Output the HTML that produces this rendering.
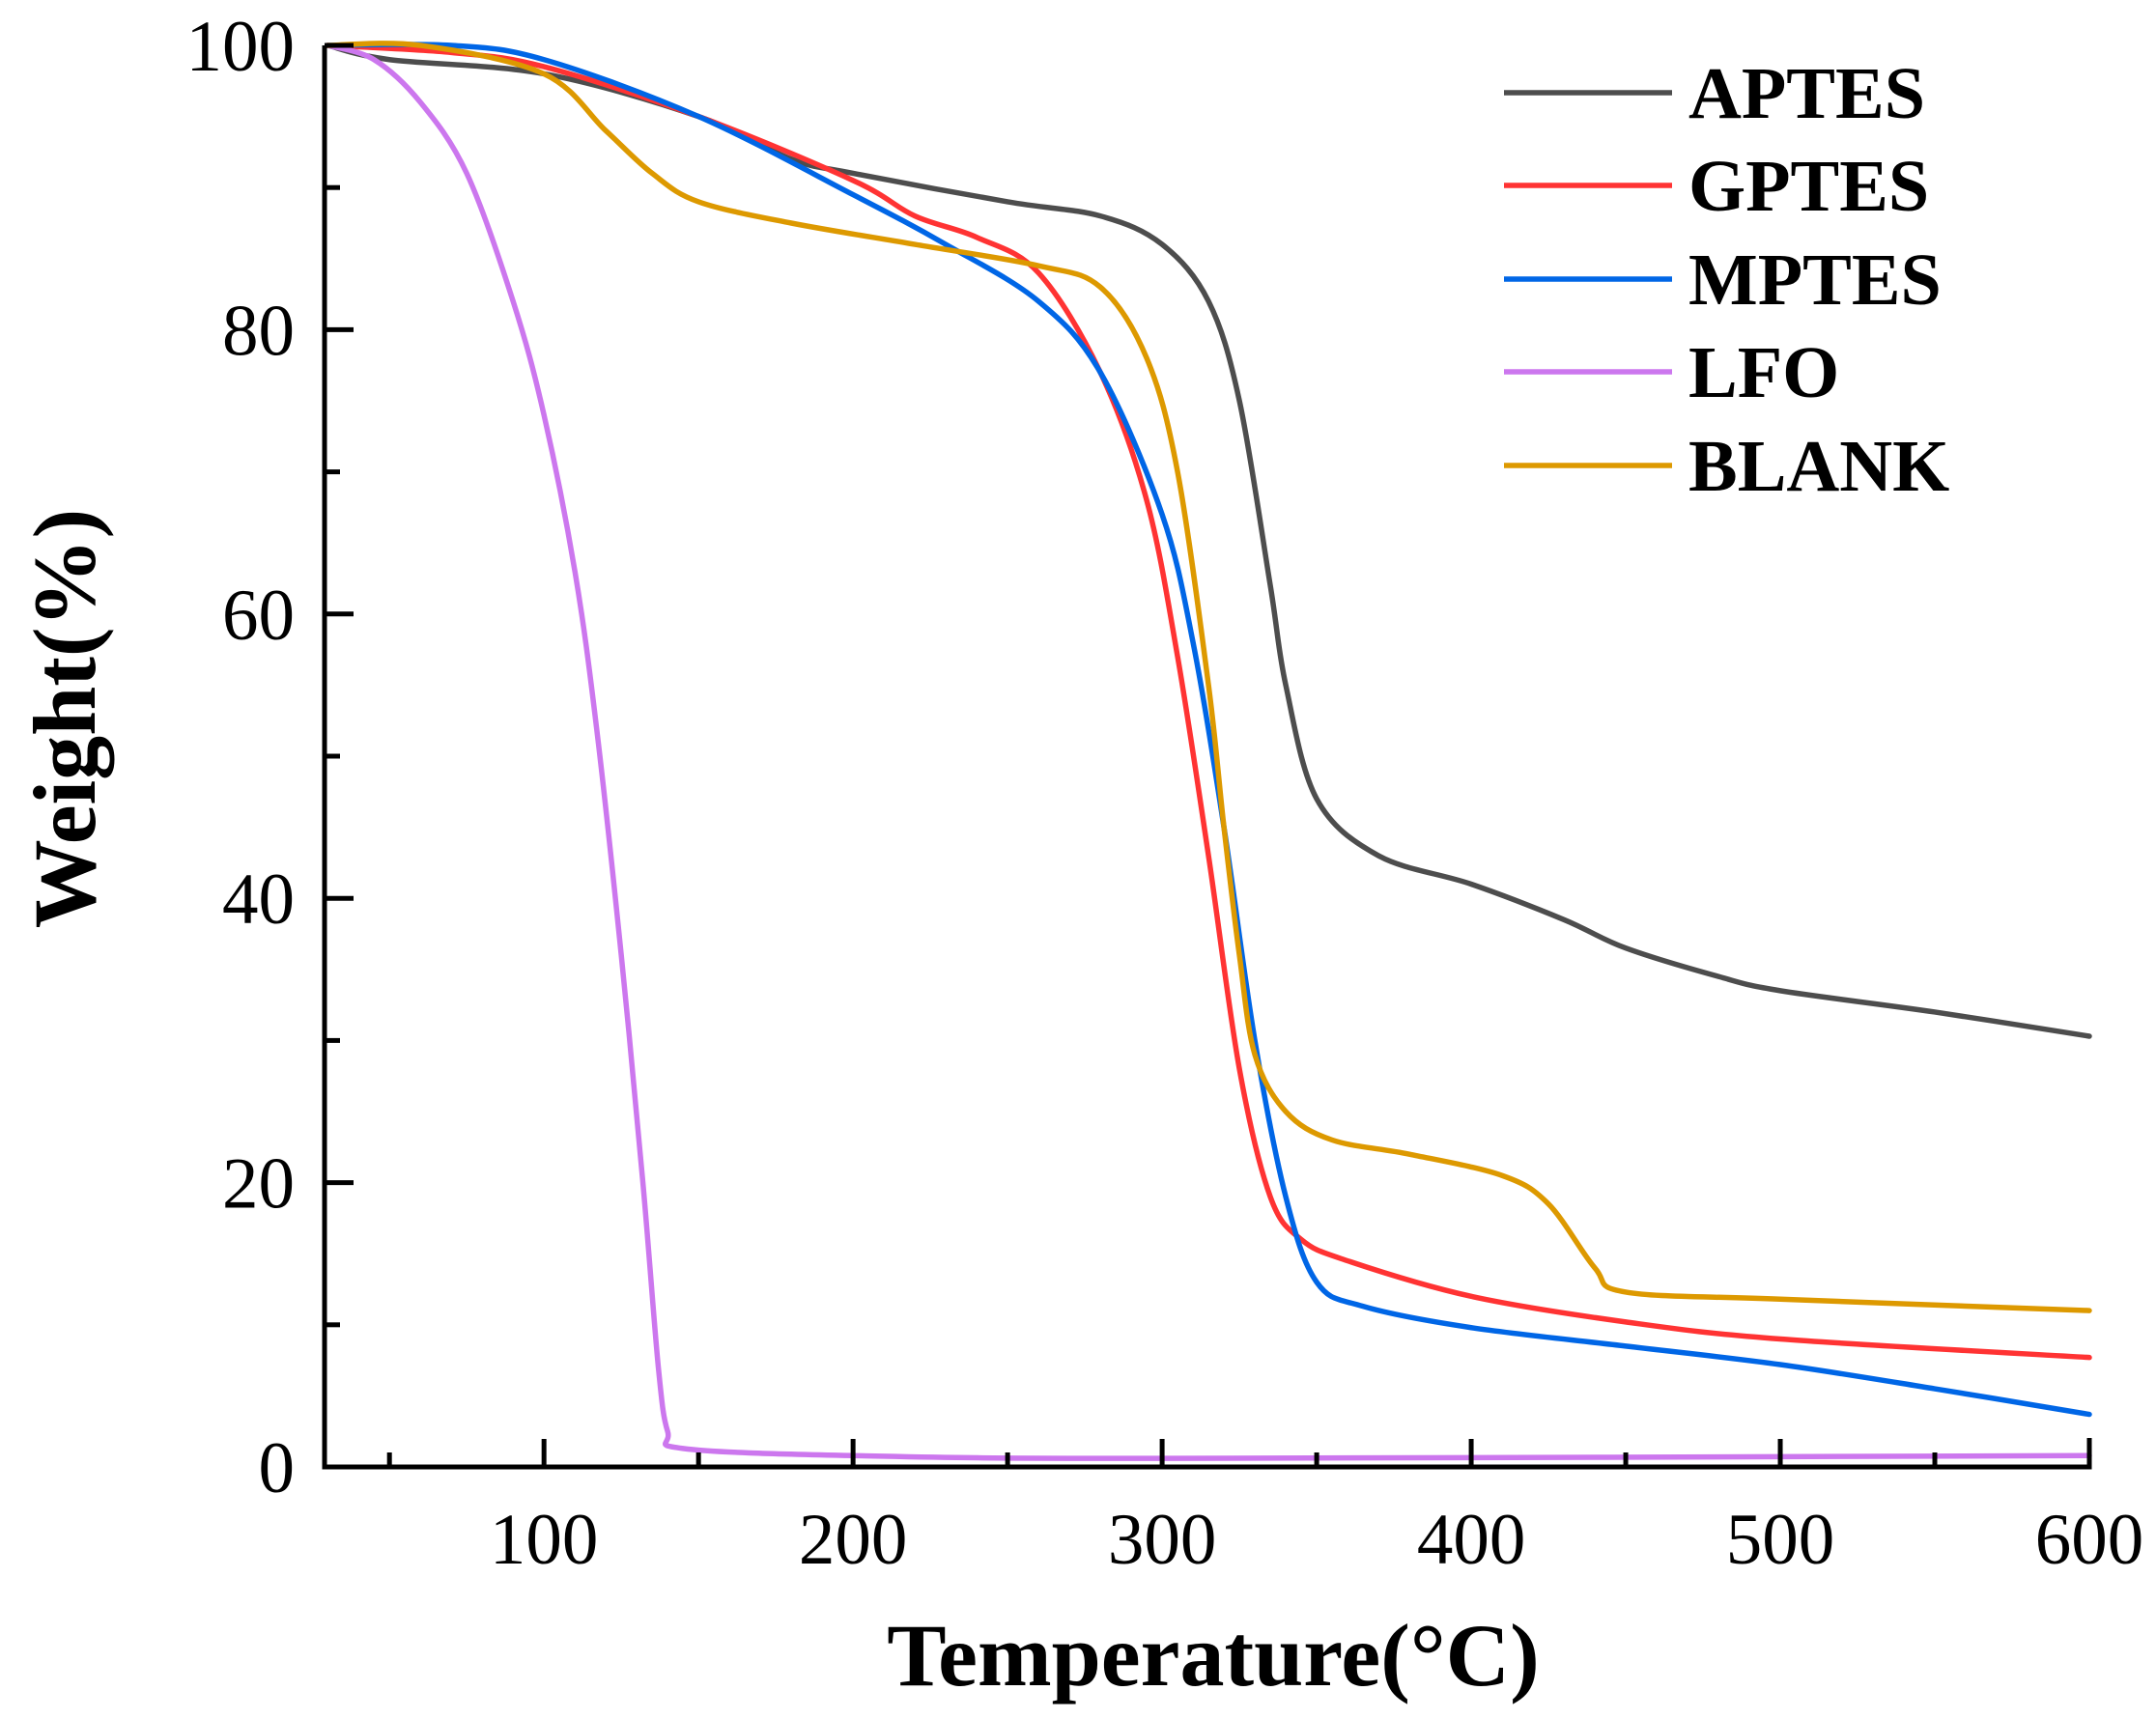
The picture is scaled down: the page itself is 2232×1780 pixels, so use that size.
<!DOCTYPE html>
<html><head><meta charset="utf-8"><style>
html,body{margin:0;padding:0;background:#fff;}
svg{display:block;}
</style></head><body>
<svg id="s" width="2232" height="1780" xmlns="http://www.w3.org/2000/svg">
<g id="curves" fill="none" stroke-width="5.5" stroke-linejoin="round" stroke-linecap="round"></g>
<g id="axes" stroke="#000" stroke-width="5" fill="none"></g>
<g font-family="Liberation Serif, serif" font-size="75" fill="#000" id="labels"></g>
<text x="1256" y="1745" text-anchor="middle" font-family="Liberation Serif, serif" font-weight="bold" font-size="92">Temperature(°C)</text>
<text transform="translate(98,744) rotate(-90)" text-anchor="middle" font-family="Liberation Serif, serif" font-weight="bold" font-size="92">Weight(%)</text>
<g font-family="Liberation Serif, serif" font-weight="bold" font-size="76" fill="#000">
<line x1="1557" y1="96" x2="1731" y2="96" stroke="#4d4d4d" stroke-width="5.5"/><text x="1748" y="122">APTES</text>
<line x1="1557" y1="192" x2="1731" y2="192" stroke="#ff3333" stroke-width="5.5"/><text x="1748" y="218">GPTES</text>
<line x1="1557" y1="289" x2="1731" y2="289" stroke="#0066e6" stroke-width="5.5"/><text x="1748" y="315">MPTES</text>
<line x1="1557" y1="385" x2="1731" y2="385" stroke="#cc77ee" stroke-width="5.5"/><text x="1748" y="411">LFO</text>
<line x1="1557" y1="482" x2="1731" y2="482" stroke="#dd9900" stroke-width="5.5"/><text x="1748" y="508">BLANK</text>
</g>
</svg>
<script>
const NS="http://www.w3.org/2000/svg";
const X0=336,X1=2163,Y0=1519,Y100=47;
const X=t=>X0+(t-29)*((X1-X0)/571), Y=w=>Y0-w*((Y0-Y100)/100);
function el(p,tag,a,txt){const e=document.createElementNS(NS,tag);for(const k in a)e.setAttribute(k,a[k]);if(txt!==undefined)e.textContent=txt;p.appendChild(e);return e;}
function path(pts){const P=pts.map(p=>[X(p[0]),Y(p[1])]);let d="M"+P[0][0]+","+P[0][1];
for(let i=0;i<P.length-1;i++){const p0=P[Math.max(0,i-1)],p1=P[i],p2=P[i+1],p3=P[Math.min(P.length-1,i+2)];
const c1=[p1[0]+(p2[0]-p0[0])/6,p1[1]+(p2[1]-p0[1])/6],c2=[p2[0]-(p3[0]-p1[0])/6,p2[1]-(p3[1]-p1[1])/6];
d+=" C"+c1+" "+c2+" "+p2;}return d;}
const S={
"#4d4d4d":[[30,100],[50,99],[100,98],[150,95],[180,92],[200,91],[250,89],[280,88],[300,86],[315,82],[325,75],[335,62],[340,55],[350,47],[370,43],[400,41],[430,38.5],[450,36.5],[480,34.5],[500,33.5],[550,32],[600,30.3]],
"#ff3333":[[30,100],[70,99.5],[100,98.5],[150,95],[200,90.5],[220,88],[240,86.5],[260,84],[280,77],[295,68],[305,57],[315,43],[325,28],[335,19],[345,16],[360,14.5],[400,12],[450,10.2],[500,9],[600,7.7]],
"#0066e6":[[30,100],[70,100],[100,99],[150,95],[200,89.5],[230,86],[260,82],[280,77],[300,67],[310,58],[320,45],[330,30],[340,19],[350,13],[365,11.3],[400,9.8],[450,8.5],[500,7.2],[550,5.5],[600,3.7]],
"#cc77ee":[[30,100],[45,99],[60,96],[75,91],[90,82],[100,74],[110,63],[117,52],[125,36],[132,20],[137,7],[140,2.5],[145,1.3],[200,0.8],[300,0.6],[600,0.8]],
"#dd9900":[[30,100],[60,100],[100,98],[120,94],[135,91],[150,89],[180,87.5],[220,86],[260,84.5],[280,83],[295,78],[305,70],[315,55],[320,45],[325,36],[330,29],[340,25],[355,23],[380,22],[410,20.5],[425,18.5],[440,14],[450,12.3],[500,11.8],[600,11]]};
const cg=document.getElementById("curves");
for(const c in S)el(cg,"path",{d:path(S[c]),stroke:c});
const ag=document.getElementById("axes"),lg=document.getElementById("labels");
el(ag,"path",{d:`M${X0},${Y100} L${X0},${Y0} L${X1},${Y0} L${X1},${Y0-30}`});
for(let t=50;t<=600;t+=50){const x=X(t),maj=t%100==0;el(ag,"line",{x1:x,y1:Y0,x2:x,y2:maj?Y0-29:Y0-15});
if(maj)el(lg,"text",{x:x,y:Y0+100,"text-anchor":"middle"},t);}
for(let w=0;w<=100;w+=10){const y=Y(w),maj=w%20==0;el(ag,"line",{x1:X0,y1:y,x2:maj?X0+30:X0+16,y2:y});
if(maj)el(lg,"text",{x:305,y:y+26,"text-anchor":"end"},w);}
</script>
</body></html>
